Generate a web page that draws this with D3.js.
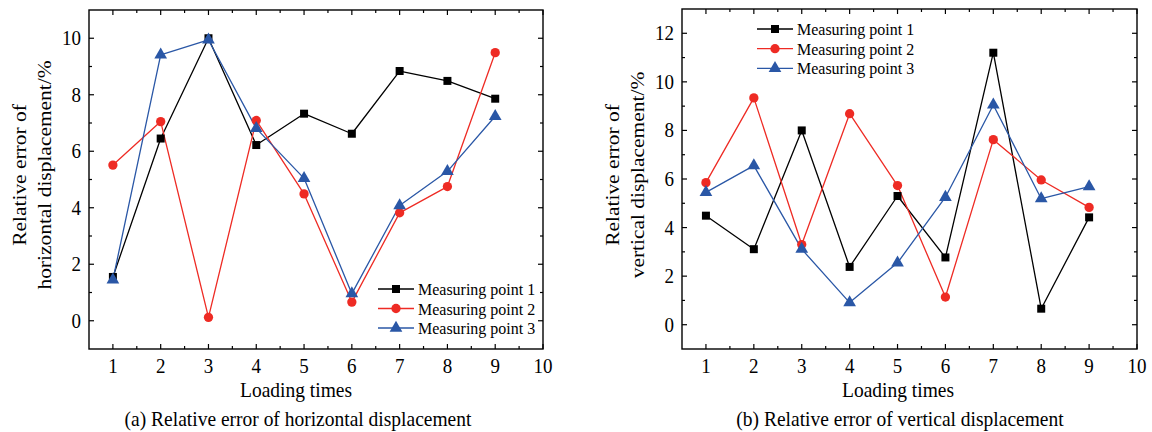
<!DOCTYPE html>
<html>
<head>
<meta charset="utf-8">
<script src="https://cdn.jsdelivr.net/npm/d3@7"></script>
<style>
  body { margin: 0; background: #fff; }
  svg { display: block; font-family: "Liberation Serif", "Times New Roman", serif; }
</style>
</head>
<body>
<div id="chart"></div>
<script>
// loading times (x)
const loadTimes = [1, 2, 3, 4, 5, 6, 7, 8, 9]
const seriesNames = ['Measuring point 1', 'Measuring point 2', 'Measuring point 3']

// (a) horizontal displacement relative error, %
const horizP1 = [1.55, 6.45, 10.0, 6.22, 7.33, 6.62, 8.84, 8.49, 7.86]
const horizP2 = [5.51, 7.05, 0.12, 7.09, 4.49, 0.66, 3.82, 4.75, 9.49]
const horizP3 = [1.45, 9.41, 9.94, 6.81, 5.04, 0.96, 4.08, 5.29, 7.24]

// (b) vertical displacement relative error, %
const vertP1 = [4.49, 3.11, 8.0, 2.38, 5.30, 2.77, 11.2, 0.66, 4.42]
const vertP2 = [5.85, 9.34, 3.30, 8.69, 5.73, 1.14, 7.62, 5.96, 4.83]
const vertP3 = [5.45, 6.55, 3.11, 0.91, 2.55, 5.25, 9.05, 5.19, 5.69]

// tick labels
const xTicks = [1, 2, 3, 4, 5, 6, 7, 8, 9, 10]
const yTicksA = [0, 2, 4, 6, 8, 10]
const yTicksB = [0, 2, 4, 6, 8, 10, 12]

const colors = ['#000000', '#ee2b24', '#2a57a6']
const shapes = [d3.symbolSquare, d3.symbolCircle, d3.symbolTriangle]
const symSize = [64, 68, 70]

// the source figure is a little taller than wide in its lettering
const stretch = 1.1

const svg = d3.select('#chart').append('svg')
    .attr('width', 1152)
    .attr('height', 432)

// text placed at (x, y) with the vertical stretch
function label(parent, x, y, str, size, anchor) {
    return parent.append('text')
        .attr('transform', `translate(${x},${y}) scale(1,${stretch})`)
        .attr('text-anchor', anchor || 'start')
        .attr('font-size', size)
        .text(str)
}

function panel(opt) {
    const x = d3.scaleLinear().domain([0.5, 10]).range([opt.left, opt.right])
    const y = d3.scaleLinear().domain(opt.yDomain).range([opt.bottom, opt.top])

    const g = svg.append('g')

    // minor ticks
    const xMinor = d3.range(1.5, 10, 1)
    const yMinor = d3.range(opt.yDomain[0] + 2, opt.yDomain[1], 2)

    const tickG = g.append('g').attr('stroke', '#000').attr('stroke-width', 1.2)
    const major = 5, minor = 3
    xTicks.forEach(t => {
        tickG.append('line').attr('x1', x(t)).attr('x2', x(t)).attr('y1', opt.bottom).attr('y2', opt.bottom - major)
        tickG.append('line').attr('x1', x(t)).attr('x2', x(t)).attr('y1', opt.top).attr('y2', opt.top + major)
    })
    xMinor.forEach(t => {
        tickG.append('line').attr('x1', x(t)).attr('x2', x(t)).attr('y1', opt.bottom).attr('y2', opt.bottom - minor)
        tickG.append('line').attr('x1', x(t)).attr('x2', x(t)).attr('y1', opt.top).attr('y2', opt.top + minor)
    })
    opt.yTicks.forEach(t => {
        tickG.append('line').attr('y1', y(t)).attr('y2', y(t)).attr('x1', opt.left).attr('x2', opt.left + major)
        tickG.append('line').attr('y1', y(t)).attr('y2', y(t)).attr('x1', opt.right).attr('x2', opt.right - major)
    })
    yMinor.forEach(t => {
        tickG.append('line').attr('y1', y(t)).attr('y2', y(t)).attr('x1', opt.left).attr('x2', opt.left + minor)
        tickG.append('line').attr('y1', y(t)).attr('y2', y(t)).attr('x1', opt.right).attr('x2', opt.right - minor)
    })

    // frame
    g.append('rect')
        .attr('x', opt.left).attr('y', opt.top)
        .attr('width', opt.right - opt.left).attr('height', opt.bottom - opt.top)
        .attr('fill', 'none').attr('stroke', '#000').attr('stroke-width', 1.4)

    // tick labels
    xTicks.forEach(t => label(g, x(t), opt.bottom + 24, t, 19, 'middle'))
    opt.yTicks.forEach(t => label(g, opt.left - 8, y(t) + 7, t, 19, 'end'))

    // axis titles
    label(g, opt.xTitleX, 397, 'Loading times', 19.5, 'middle')
    label(g, opt.xTitleX + 2, 426, opt.caption, 19.5, 'middle')

    const yt = g.append('text')
        .attr('transform', `translate(${opt.left - 57},175) rotate(-90) scale(${stretch},1)`)
        .attr('text-anchor', 'middle').attr('font-size', 19.5)
    yt.append('tspan').attr('x', 0).attr('dy', -6).text('Relative error of')
    yt.append('tspan').attr('x', 0).attr('dy', 25).text(opt.yTitle2)

    // series
    const line = d3.line().x((d, i) => x(loadTimes[i])).y(d => y(d))
    opt.series.forEach((vals, s) => {
        g.append('path')
            .attr('d', line(vals))
            .attr('fill', 'none')
            .attr('stroke', colors[s])
            .attr('stroke-width', 1.3)
            .attr('stroke-linejoin', 'round')
    })
    opt.series.forEach((vals, s) => {
        g.append('g').selectAll('path').data(vals).join('path')
            .attr('transform', (d, i) => `translate(${x(loadTimes[i])},${y(d)})`)
            .attr('d', d3.symbol().type(shapes[s]).size(symSize[s]))
            .attr('fill', colors[s])
    })

    // legend
    const lg = g.append('g')
    seriesNames.forEach((name, s) => {
        const ly = opt.legend.y[s]
        lg.append('line')
            .attr('x1', opt.legend.x).attr('x2', opt.legend.x + 36)
            .attr('y1', ly).attr('y2', ly)
            .attr('stroke', colors[s]).attr('stroke-width', 1.3)
        lg.append('path')
            .attr('transform', `translate(${opt.legend.x + 18},${ly})`)
            .attr('d', d3.symbol().type(shapes[s]).size(symSize[s]))
            .attr('fill', colors[s])
        label(lg, opt.legend.x + 40, ly + 6, name, 16)
    })
}

panel({
    left: 89, right: 543, top: 10, bottom: 349,
    yDomain: [-1, 11], yTicks: yTicksA,
    series: [horizP1, horizP2, horizP3],
    yTitle2: 'horizontal displacement/%',
    caption: '(a) Relative error of horizontal displacement',
    xTitleX: 296,
    legend: { x: 378, y: [289, 308.5, 328] }
})

panel({
    left: 682, right: 1137, top: 9, bottom: 349,
    yDomain: [-1, 13], yTicks: yTicksB,
    series: [vertP1, vertP2, vertP3],
    yTitle2: 'vertical displacement/%',
    caption: '(b) Relative error of vertical displacement',
    xTitleX: 898,
    legend: { x: 757, y: [29, 48.7, 68.3] }
})
</script>
</body>
</html>
